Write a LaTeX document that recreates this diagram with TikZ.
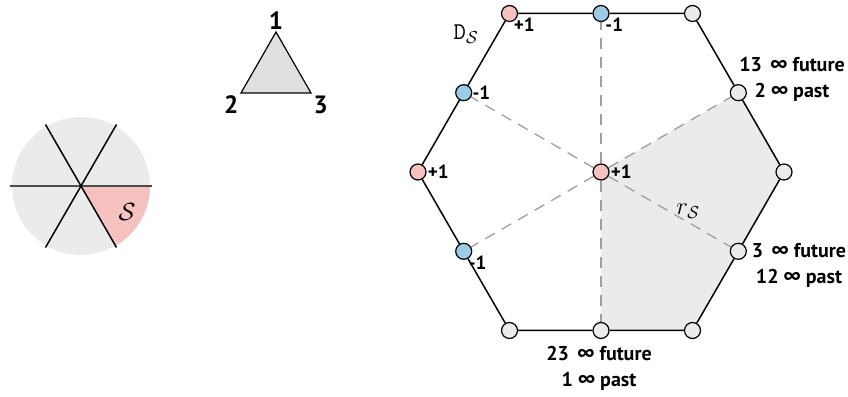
\documentclass[tikz,border=0pt]{standalone}
\usepackage{fontspec}
\setsansfont{PT Sans}
\usetikzlibrary{backgrounds}

\definecolor{plus}{HTML}{F5C2C0}
\definecolor{minus}{HTML}{9CCBE6}
\definecolor{neutral}{HTML}{EBEBEB}
\definecolor{region}{HTML}{EBEBEB}
\definecolor{tri}{HTML}{E0E0E0}

\begin{document}
\begin{tikzpicture}[x=1pt, y=1pt,
    pt/.style={circle, draw, line width=1.2pt, minimum size=16pt, inner sep=0pt},
    pospt/.style={pt, fill=plus}, negpt/.style={pt, fill=minus}, nullpt/.style={pt, fill=neutral},
    sgn/.style={font=\sffamily\bfseries\fontsize{19}{22}\selectfont, inner sep=1pt},
    lbl/.style={font=\sffamily\bfseries\fontsize{20}{26}\selectfont, inner sep=1pt},
    big/.style={font=\sffamily\bfseries\fontsize{25}{28}\selectfont, inner sep=1pt},
    ray/.style={gray!75, line width=1.3pt, dash pattern=on 11pt off 8pt}]

    \useasboundingbox (0,0) rectangle (848,396);

    % disc with its six sectors
    \coordinate (o) at (81,210);
    \fill[neutral] (o) circle (69);
    \fill[plus] (o) -- ++(0:69) arc (0:-60:69) -- cycle;
    \draw[black!70, line width=2pt] ([shift={(180:71)}]o) -- ([shift={(0:71)}]o);
    \draw[line width=1.5pt] ([shift={(120:71)}]o) -- ([shift={(-60:71)}]o);
    \draw[line width=1.5pt] ([shift={(60:71)}]o) -- ([shift={(240:71)}]o);
    \node (s) at (127,184) {\fontsize{27}{30}\selectfont$\mathcal{S}$};

    % triangle
    \coordinate[label={[big, label distance=1pt]above:1}] (t1) at (276,364);
    \coordinate[label={[big, label distance=2pt]below left:2}] (t2) at (241,303);
    \coordinate[label={[big, label distance=2pt]below right:3}] (t3) at (311,303);
    \draw[fill=tri, line width=1.2pt] (t1) -- (t2) -- (t3) -- cycle;

    % hexagon
    \node at (601,224) [pospt, label={[sgn]right:+1}] (c) {};
    \node at (784,224) [nullpt] (v0) {};
    \node at (692.5,382.5) [nullpt] (v1) {};
    \node at (509.5,382.5) [pospt, label={[sgn, label distance=-4pt]below right:+1}] (v2) {};
    \node at (418,224) [pospt, label={[sgn]right:+1}] (v3) {};
    \node at (509.5,65.5) [nullpt] (v4) {};
    \node at (692.5,65.5) [nullpt] (v5) {};

    \node at (738.3,303.3) [nullpt] (m0) {};
    \node at (601,382.5) [negpt, label={[sgn, label distance=-4pt]below right:-1}] (m1) {};
    \node at (463.7,303.3) [negpt, label={[sgn, label distance=-1pt]right:-1}] (m2) {};
    \node at (463.7,144.7) [negpt, label={[sgn, label distance=-3pt]below right:-1}] (m3) {};
    \node at (601,65.5) [nullpt] (m4) {};
    \node at (738.3,144.7) [nullpt] (m5) {};

    \draw[line width=1.5pt] (v0) -- (m0) -- (v1) -- (m1) -- (v2) -- (m2) -- (v3)
        -- (m3) -- (v4) -- (m4) -- (v5) -- (m5) -- (v0);

    \begin{pgfonlayer}{background}
        \fill[region] (c.center) -- (m0.center) -- (v0.center) -- (v5.center) -- (m4.center) -- cycle;
        \draw[ray] (c) -- (m0);
        \draw[ray] (c) -- (m1);
        \draw[ray] (c) -- (m2);
        \draw[ray] (c) -- (m3);
        \draw[ray] (c) -- (m4);
        \draw[ray] (c) -- (m5);
    \end{pgfonlayer}

    \node at (466,362) (dlbl) {\fontsize{24}{28}\selectfont$\mathtt{D}_{\mathcal{S}}$};
    \node at (688,185) (rlbl) {\fontsize{26}{30}\selectfont$r_{\mathcal{S}}$};

    \node[lbl, align=center] at (792,317) (m0txt) {13~\,∞ future\\2 ∞ past};
    \node[lbl, align=center] at (799,131) (m5txt) {3~\,∞ future\\12 ∞ past};
    \node[lbl, align=center] at (599,28) (m4txt) {23~\,∞ future\\1 ∞ past};
\end{tikzpicture}
\end{document}
